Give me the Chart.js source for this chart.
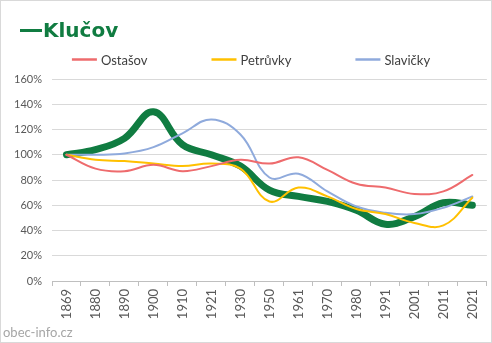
<!DOCTYPE html>
<html>
<head>
<meta charset="utf-8">
<script src="https://cdn.jsdelivr.net/npm/chart.js@4"></script>
<style>
  html, body { margin: 0; padding: 0; background: #fff; }
  #box { position: relative; width: 492px; height: 343px; box-sizing: border-box; border: 1px solid #d9d9d9; }
  canvas { display: block; }
</style>
</head>
<body>
<div id="box"><canvas id="chart" width="490" height="341"></canvas></div>
<script>
const years = ['1869', '1880', '1890', '1900', '1910', '1921', '1930', '1950', '1961', '1970', '1980', '1991', '2001', '2011', '2021'];
const klucov = [100, 104, 113, 134, 108, 100, 91, 72, 67, 63, 56, 45, 51, 62, 60];
const ostasov = [100, 89, 87, 92, 87, 91, 96, 93, 98, 88, 77, 74, 69, 71, 84];
const petruvky = [100, 96, 95, 93, 91, 93, 89, 63, 74, 67, 57, 53, 46, 44, 66];
const slavicky = [100, 100, 101, 106, 117, 128, 116, 82, 85, 71, 59, 54, 53, 58, 67];
const yTicks = [0, 20, 40, 60, 80, 100, 120, 140, 160];

const FONT = 'Lato, "Liberation Sans", sans-serif';
const PLOT_TOP = 78; // where the 160% gridline sits

function line(label, data, color, width) {
  return {
    label,
    data,
    borderColor: color,
    backgroundColor: color,
    borderWidth: width,
    borderCapStyle: 'round',
    pointRadius: 0,
    tension: 0.4,
    fill: false
  };
}

// Excel-like header: title with its own line marker, legend spread out below
const header = {
  id: 'header',
  afterDraw(chart) {
    const c = chart.ctx;
    const sets = chart.data.datasets;
    const main = sets[sets.length - 1];
    c.save();

    // title
    c.strokeStyle = main.borderColor;
    c.lineWidth = 3;
    c.beginPath();
    c.moveTo(19, 29.5);
    c.lineTo(41, 29.5);
    c.stroke();
    c.font = 'bold 20px "DejaVu Sans", sans-serif';
    c.fillStyle = main.borderColor;
    c.textBaseline = 'alphabetic';
    c.fillText(main.label, 42, 36);

    // legend
    const others = sets.slice(0, -1);
    const boxW = 25, gap = 4, spacing = 64;
    c.font = '13px ' + FONT;
    const widths = others.map(ds => boxW + gap + c.measureText(ds.label).width);
    const total = widths.reduce((a, b) => a + b, 0) + spacing * (others.length - 1);
    let x = 250 - total / 2;
    const y = 58.5;
    c.textBaseline = 'middle';
    others.forEach((ds, i) => {
      c.strokeStyle = ds.borderColor;
      c.lineWidth = 2.5;
      c.beginPath();
      c.moveTo(x, y);
      c.lineTo(x + boxW, y);
      c.stroke();
      c.fillStyle = '#404040';
      c.fillText(ds.label, x + boxW + gap, y + 1);
      x += widths[i] + spacing;
    });

    // watermark
    c.font = '13px ' + FONT;
    c.fillStyle = '#a6a6a6';
    c.textBaseline = 'alphabetic';
    c.fillText('obec-info.cz', 2, 336);
    c.restore();
  }
};

const ctx = document.getElementById('chart').getContext('2d');
const chart = new Chart(ctx, {
  type: 'line',
  data: {
    labels: years,
    datasets: [
      line('Ostašov', ostasov, '#ee6b6d', 2),
      line('Petrůvky', petruvky, '#ffc000', 2),
      line('Slavičky', slavicky, '#8faadc', 2),
      line('Klučov', klucov, '#107c41', 7)
    ]
  },
  options: {
    responsive: false,
    animation: false,
    layout: { padding: { left: 0, right: 1, top: PLOT_TOP, bottom: 0 } },
    plugins: {
      title: { display: false },
      legend: { display: false },
      tooltip: { enabled: false }
    },
    scales: {
      x: {
        offset: true,
        afterFit(scale) { scale.height = 61; },
        grid: { display: true, offset: true, drawOnChartArea: false, drawTicks: true, tickLength: 5, color: '#bfbfbf' },
        border: { display: true, color: '#bfbfbf' },
        ticks: {
          color: '#595959',
          font: { family: FONT, size: 13 },
          minRotation: 90,
          maxRotation: 90,
          autoSkip: false,
          padding: 3
        }
      },
      y: {
        min: 0,
        max: 160,
        afterFit(scale) { scale.width = 51; },
        afterBuildTicks(scale) { scale.ticks = yTicks.map(v => ({ value: v })); },
        grid: { color: '#d9d9d9', drawTicks: false },
        border: { display: false },
        ticks: {
          color: '#595959',
          font: { family: FONT, size: 11 },
          padding: 10,
          callback: v => v + '%'
        }
      }
    }
  },
  plugins: [header]
});

// put the top gridline exactly where the original has it
const shift = PLOT_TOP - chart.chartArea.top;
if (shift !== 0) {
  chart.options.layout.padding.top += shift;
  chart.update();
}
</script>
</body>
</html>
